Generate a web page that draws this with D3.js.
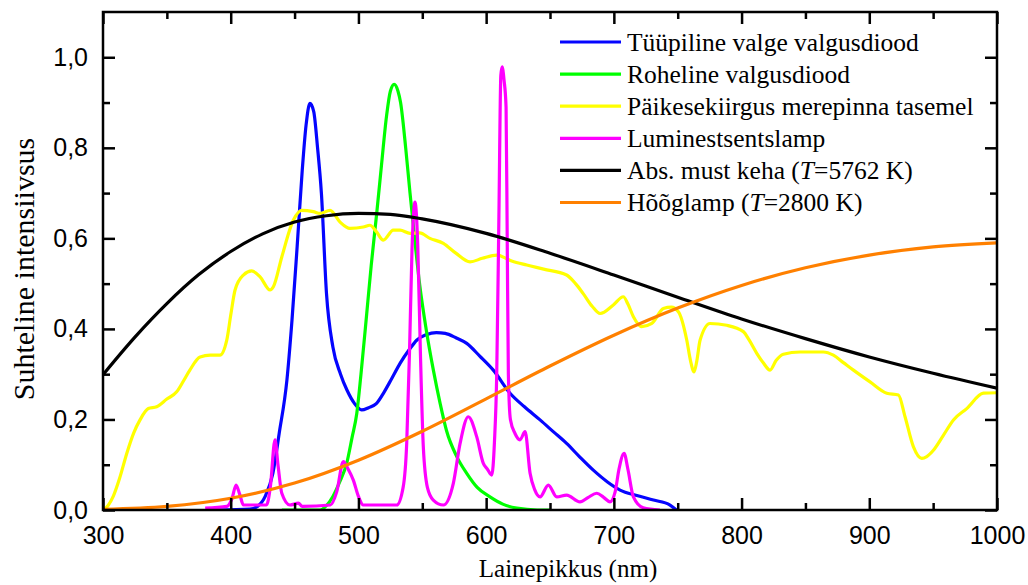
<!DOCTYPE html>
<html>
<head>
<meta charset="utf-8">
<script src="https://cdn.jsdelivr.net/npm/d3@7"></script>
<style>
  html, body { margin: 0; padding: 0; background: #fff; }
  svg { display: block; }
</style>
</head>
<body>
<svg id="chart" width="1028" height="585"></svg>
<script>
// ---------- DATA ----------
const xTickValues = [300, 400, 500, 600, 700, 800, 900, 1000];
const xMinorValues = [350, 450, 550, 650, 750, 850, 950];
const yTickValues = [0, 0.2, 0.4, 0.6, 0.8, 1.0];
const yMinorValues = [0.1, 0.3, 0.5, 0.7, 0.9];

const seriesNames = [
  "Tüüpiline valge valgusdiood",
  "Roheline valgusdiood",
  "Päikesekiirgus merepinna tasemel",
  "Luminestsentslamp",
  "Abs. must keha (T=5762 K)",
  "Hõõglamp (T=2800 K)"
];
const seriesColors = ["#0505ff", "#00ff00", "#ffff00", "#ff00ff", "#000000", "#ff8000"];

const blueWl = [390,415,421,427,433,438,444,448,452,456,459,462,465,468,471,475,480,486,491,497,502.5,508,514,520,526,532.6,540,545.6,553,561,568,576,584.8,595,605.6,618.7,630,642.2,653,663,673,683.9,695,704.9,718,731,744,749];
const blueVal = [0,0.002,0.008,0.03,0.081,0.17,0.287,0.42,0.581,0.75,0.85,0.898,0.88,0.80,0.70,0.478,0.36,0.30,0.265,0.235,0.221,0.226,0.235,0.26,0.29,0.324,0.355,0.375,0.387,0.392,0.390,0.381,0.368,0.34,0.309,0.258,0.228,0.199,0.172,0.147,0.118,0.088,0.062,0.044,0.032,0.022,0.011,0];

const greenWl = [440,470,475,480,485,490.8,495,498.7,502,506.5,510,514.3,518,522,525,528,531,533,537,540.4,544,548,553,558.6,564,569,577,584.8,593,603,613,624,640,650];
const greenVal = [0,0,0.01,0.03,0.06,0.103,0.16,0.213,0.30,0.434,0.54,0.655,0.76,0.87,0.925,0.94,0.925,0.90,0.80,0.70,0.60,0.497,0.40,0.31,0.235,0.175,0.118,0.081,0.05,0.029,0.013,0.004,0,0];

const sunWl = [300,304,308,313,318.6,324,329,335.5,342,350,357.7,363,368,376,384,391.6,396.9,400,403.4,409.9,416.5,423,430.8,433.4,440,449,455.6,464.7,470,477.8,485.6,493.4,503.8,509,514,519.5,527.3,532.6,540.4,548,556,566.5,576,587.4,597,608.3,620,631.8,645,663,670,676,683,689.2,699.6,707.4,711,715.3,721.8,729.7,738.8,745,750.5,757.1,760,762.8,765,767.5,775.3,788.4,801.4,806,811.9,817,822.3,827,832.7,845.8,864,871.9,880,887.6,900.6,913.7,922.8,928,934.5,941.1,945,950.2,958,965.9,976.3,989.4,1000];
const sunVal = [0,0.01,0.03,0.07,0.125,0.17,0.199,0.224,0.228,0.245,0.261,0.285,0.309,0.338,0.342,0.342,0.375,0.43,0.486,0.519,0.528,0.515,0.486,0.493,0.559,0.640,0.662,0.659,0.655,0.662,0.636,0.622,0.625,0.629,0.615,0.596,0.618,0.618,0.611,0.612,0.600,0.589,0.568,0.548,0.556,0.563,0.55,0.541,0.532,0.519,0.50,0.478,0.450,0.434,0.453,0.471,0.455,0.427,0.405,0.412,0.445,0.448,0.438,0.375,0.33,0.305,0.33,0.375,0.412,0.408,0.394,0.375,0.346,0.325,0.309,0.33,0.344,0.349,0.349,0.342,0.325,0.309,0.283,0.258,0.254,0.206,0.140,0.114,0.118,0.132,0.165,0.199,0.224,0.258,0.259];

const fluoWl = [380,397,401,404.2,407,410,428,431,434.7,437,440,446.4,453,456,478,483,488.2,492,496,500,503.8,530,535,537.8,540,542,544.3,546.5,548.5,550.8,554,558.6,566.5,574.3,579.6,586,592.6,597.8,601,604.4,606.5,608.3,610,611.5,612.5,614,615.6,616.5,617.4,619,622.6,626.5,630.5,634.4,638,642.2,648.7,655.3,663,673.5,680,686.6,692,697,701,704,708,711,715.3,723,736];
const fluoVal = [0.004,0.008,0.025,0.055,0.035,0.011,0.011,0.05,0.155,0.10,0.037,0.011,0.015,0.008,0.011,0.04,0.107,0.09,0.066,0.03,0.011,0.011,0.05,0.147,0.35,0.58,0.68,0.58,0.35,0.14,0.05,0.022,0.011,0.059,0.147,0.206,0.162,0.103,0.09,0.077,0.15,0.302,0.65,0.96,0.979,0.95,0.89,0.6,0.30,0.2,0.169,0.155,0.173,0.081,0.045,0.029,0.055,0.029,0.033,0.018,0.028,0.037,0.028,0.018,0.04,0.09,0.125,0.09,0.029,0.005,0];

const bbWl = [300,325,350,375,400,425,450,475,500,525,550,600,650,700,750,800,850,900,950,1000];
const bbVal = [0.299,0.382,0.456,0.520,0.571,0.610,0.636,0.650,0.655,0.653,0.643,0.611,0.567,0.519,0.470,0.422,0.3785,0.338,0.302,0.269];

const incWl = [300,350,400,450,500,550,600,650,700,750,800,850,900,950,1000];
const incVal = [0.0015,0.008,0.026,0.0595,0.110,0.174,0.2455,0.318,0.386,0.446,0.496,0.535,0.563,0.581,0.590];

// ---------- LAYOUT ----------
const svg = d3.select("#chart");
const L = 103, R = 997, T = 12, B = 510;
const x = d3.scaleLinear().domain([300, 1000]).range([L, R]);
const y = d3.scaleLinear().domain([0, 1.1]).range([B, T]);

const sansFont = "'Liberation Sans', Arial, sans-serif";
const serifFont = "'Liberation Serif', 'Times New Roman', serif";

svg.append("defs").append("clipPath").attr("id", "clip")
  .append("rect").attr("x", L).attr("y", T).attr("width", R - L).attr("height", B - T);

const toPts = (wl, v) => wl.map((w, i) => [w, v[i]]);
const series = [
  toPts(blueWl, blueVal),
  toPts(greenWl, greenVal),
  toPts(sunWl, sunVal),
  toPts(fluoWl, fluoVal),
  toPts(bbWl, bbVal),
  toPts(incWl, incVal)
];

const line = d3.line().x(d => x(d[0])).y(d => y(d[1])).curve(d3.curveMonotoneX);

const plot = svg.append("g").attr("clip-path", "url(#clip)");
series.forEach((s, i) => {
  plot.append("path").datum(s)
    .attr("fill", "none")
    .attr("stroke", seriesColors[i])
    .attr("stroke-width", 3.2)
    .attr("stroke-linejoin", "round")
    .attr("d", line);
});

// ---------- AXES ----------
function styleAxis(g) {
  g.select(".domain").remove();
  g.selectAll(".tick line").attr("stroke", "#000").attr("stroke-width", 2.5);
  g.selectAll(".tick text").attr("fill", "#000").style("font-family", sansFont).style("font-size", "25px");
}

// bottom
svg.append("g").attr("transform", `translate(0,${B})`)
  .call(d3.axisBottom(x).tickValues(xTickValues).tickSize(-12).tickPadding(16).tickFormat(d3.format("d")))
  .call(styleAxis);
svg.append("g").attr("transform", `translate(0,${B})`)
  .call(d3.axisBottom(x).tickValues(xMinorValues).tickSize(-7).tickFormat(""))
  .call(styleAxis);
// top
svg.append("g").attr("transform", `translate(0,${T})`)
  .call(d3.axisTop(x).tickValues(xTickValues).tickSize(-12).tickFormat(""))
  .call(styleAxis);
svg.append("g").attr("transform", `translate(0,${T})`)
  .call(d3.axisTop(x).tickValues(xMinorValues).tickSize(-7).tickFormat(""))
  .call(styleAxis);
// left
const commaFmt = d => d3.format(".1f")(d).replace(".", ",");
svg.append("g").attr("transform", `translate(${L},0)`)
  .call(d3.axisLeft(y).tickValues(yTickValues).tickSize(-12).tickPadding(15).tickFormat(commaFmt))
  .call(styleAxis);
svg.append("g").attr("transform", `translate(${L},0)`)
  .call(d3.axisLeft(y).tickValues(yMinorValues).tickSize(-7).tickFormat(""))
  .call(styleAxis);
// right
svg.append("g").attr("transform", `translate(${R},0)`)
  .call(d3.axisRight(y).tickValues(yTickValues).tickSize(-12).tickFormat(""))
  .call(styleAxis);
svg.append("g").attr("transform", `translate(${R},0)`)
  .call(d3.axisRight(y).tickValues(yMinorValues).tickSize(-7).tickFormat(""))
  .call(styleAxis);

// frame
svg.append("rect").attr("x", L).attr("y", T).attr("width", R - L).attr("height", B - T)
  .attr("fill", "none").attr("stroke", "#000").attr("stroke-width", 2.5);

// axis titles
svg.append("text").attr("x", 568).attr("y", 577).attr("text-anchor", "middle")
  .style("font-family", serifFont).style("font-size", "25px").text("Lainepikkus (nm)");
svg.append("text").attr("transform", "translate(34,269) rotate(-90)").attr("text-anchor", "middle")
  .style("font-family", serifFont).style("font-size", "30px").text("Suhteline intensiivsus");

// ---------- LEGEND ----------
const legend = svg.append("g");
seriesNames.forEach((name, i) => {
  const ly = 42 + i * 32.1;
  legend.append("line").attr("x1", 560).attr("x2", 621).attr("y1", ly).attr("y2", ly)
    .attr("stroke", seriesColors[i]).attr("stroke-width", 3.2);
  const t = legend.append("text").attr("x", 627).attr("y", ly + 8.5)
    .style("font-family", serifFont).style("font-size", "25.5px");
  const m = name.match(/^(.*\()T(=.*)$/);
  if (m) {
    t.append("tspan").text(m[1]);
    t.append("tspan").style("font-style", "italic").text("T");
    t.append("tspan").text(m[2]);
  } else {
    t.text(name);
  }
});
</script>
</body>
</html>
